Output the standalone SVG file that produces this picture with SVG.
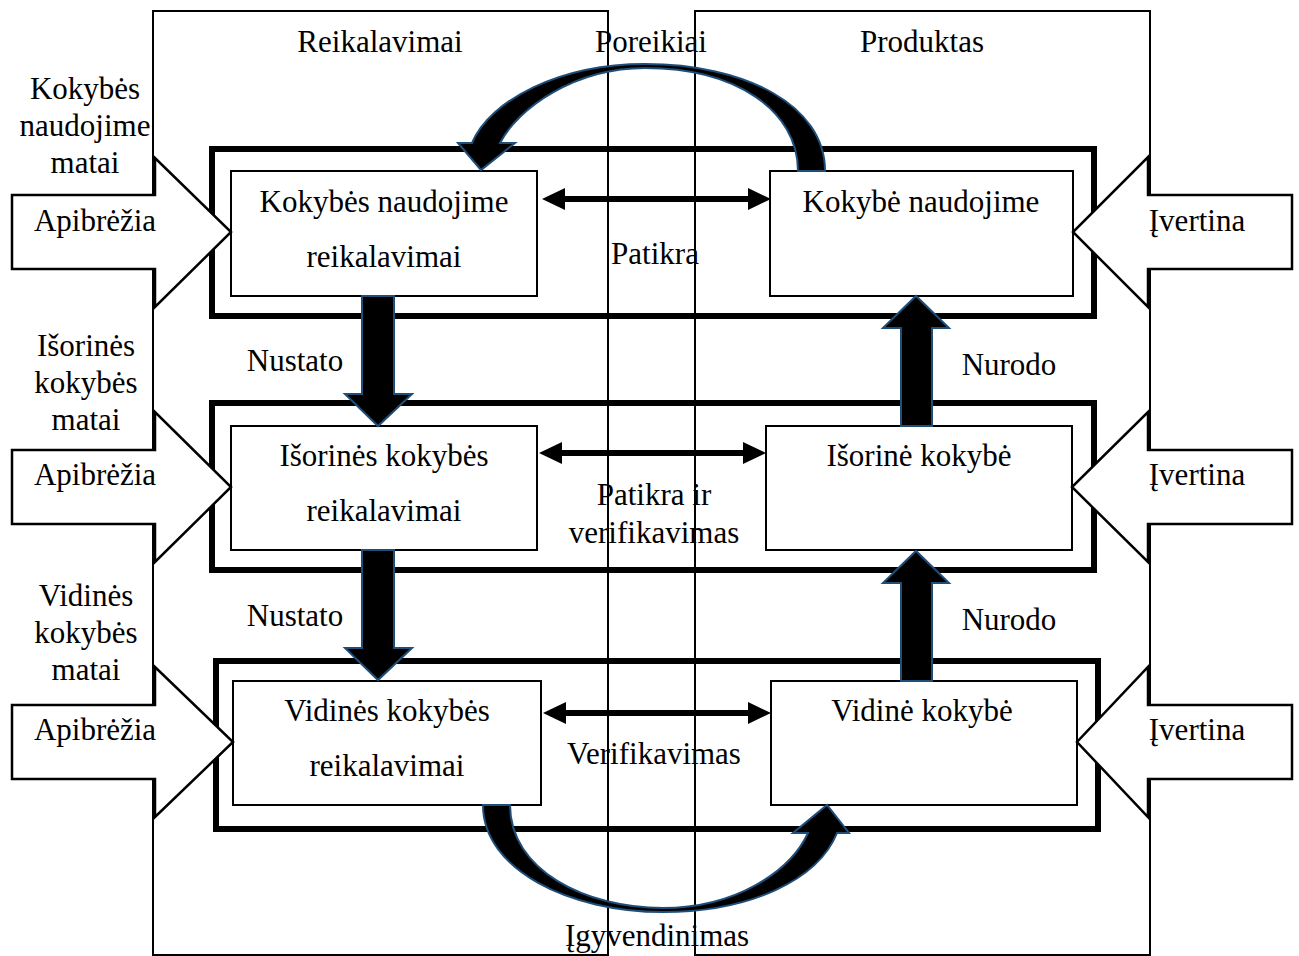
<svg xmlns="http://www.w3.org/2000/svg" width="1299" height="956" viewBox="0 0 1299 956">
<style>
text{font-family:"Liberation Serif","Times New Roman",serif;font-size:31px;fill:#000;text-anchor:middle}
.col{fill:none;stroke:#000;stroke-width:2}
.frame{fill:none;stroke:#000;stroke-width:6}
.box{fill:#fff;stroke:#000;stroke-width:2}
.blk{fill:#fff;stroke:#000;stroke-width:2.5;stroke-linejoin:miter}
.va{fill:#000;stroke:#1F4E79;stroke-width:2;stroke-linejoin:miter}
.dbl{fill:#000;stroke:none}
</style>
<g id="columns">
<rect class="col" x="153" y="11" width="455" height="944"/>
<rect class="col" x="695" y="11" width="455" height="944"/>
<text x="380" y="52">Reikalavimai</text>
<text x="651" y="52">Poreikiai</text>
<text x="922" y="52">Produktas</text>
</g>
<g id="frames">
<rect class="frame" x="212" y="149" width="882" height="167"/>
<rect class="frame" x="212" y="403" width="882" height="167"/>
<rect class="frame" x="216" y="661" width="882" height="168"/>
</g>
<g id="node-kokybes-req">
<rect class="box" x="231" y="171" width="306" height="125"/>
<text x="384" y="212">Kokybės naudojime</text>
<text x="384" y="267">reikalavimai</text>
</g>
<g id="node-kokybe">
<rect class="box" x="770" y="171" width="303" height="125"/>
<text x="921" y="212">Kokybė naudojime</text>
</g>
<g id="node-isorines-req">
<rect class="box" x="231" y="426" width="306" height="124"/>
<text x="384" y="466">Išorinės kokybės</text>
<text x="384" y="521">reikalavimai</text>
</g>
<g id="node-isorine">
<rect class="box" x="766" y="426" width="306" height="124"/>
<text x="919" y="466">Išorinė kokybė</text>
</g>
<g id="node-vidines-req">
<rect class="box" x="233" y="681" width="308" height="124"/>
<text x="387" y="721">Vidinės kokybės</text>
<text x="387" y="776">reikalavimai</text>
</g>
<g id="node-vidine">
<rect class="box" x="771" y="681" width="306" height="124"/>
<text x="922" y="721">Vidinė kokybė</text>
</g>
<g id="labels-left">
<text x="85" y="99">Kokybės</text>
<text x="85" y="136">naudojime</text>
<text x="85" y="173">matai</text>
<text x="86" y="356">Išorinės</text>
<text x="86" y="393">kokybės</text>
<text x="86" y="430">matai</text>
<text x="86" y="606">Vidinės</text>
<text x="86" y="643">kokybės</text>
<text x="86" y="680">matai</text>
</g>
<g id="connectors">
<!-- left block arrows -->
<path class="blk" d="M12,195 H155 V158 L231,232 L155,307 V269 H12 Z"/>
<path class="blk" d="M12,450 H155 V412 L231,487 L155,562 V524 H12 Z"/>
<path class="blk" d="M12,705 H155 V667 L233,742 L155,817 V779 H12 Z"/>
<text x="95" y="231">Apibrėžia</text>
<text x="95" y="485">Apibrėžia</text>
<text x="95" y="740">Apibrėžia</text>
<!-- right block arrows -->
<path class="blk" d="M1292,195 H1148 V157 L1073,232 L1148,307 V269 H1292 Z"/>
<path class="blk" d="M1292,450 H1148 V412 L1072,487 L1148,562 V524 H1292 Z"/>
<path class="blk" d="M1292,705 H1148 V667 L1077,742 L1148,817 V779 H1292 Z"/>
<text x="1197" y="231">Įvertina</text>
<text x="1197" y="485">Įvertina</text>
<text x="1197" y="740">Įvertina</text>
<!-- top curved arrow -->
<path class="va" d="M825,171 C825,105 745,64 645,64 C560,64 490,100 472,143 L458,143 L481,170 L515,143 L500,143 C518,108 575,68 645,68 C735,68 798,110 798,171 Z"/>
<!-- bottom curved arrow -->
<path class="va" d="M483,805 C483,870 570,912 663,912 C750,912 818,880 837,833 L849,833 L827,805 L793,833 L808,833 C790,872 735,908 663,908 C585,908 510,870 510,805 Z"/>
<!-- Nustato arrows -->
<path class="va" d="M362,296 H394 V394 H412 L378,426 L345,394 H362 Z"/>
<path class="va" d="M362,550 H394 V648 H412 L378,680 L345,648 H362 Z"/>
<!-- Nurodo arrows -->
<path class="va" d="M901,426 H932 V328 H949 L916,296 L883,328 H901 Z"/>
<path class="va" d="M901,681 H932 V583 H949 L916,551 L883,583 H901 Z"/>
<!-- double arrows -->
<path class="dbl" d="M542,199 L565,188 V196 H748 V188 L771,199 L748,210 V202 H565 V210 Z"/>
<path class="dbl" d="M539,453 L562,442 V450 H743 V442 L766,453 L743,464 V456 H562 V464 Z"/>
<path class="dbl" d="M543,713 L566,702 V710 H748 V702 L771,713 L748,724 V716 H566 V724 Z"/>
<text x="655" y="264">Patikra</text>
<text x="654" y="505">Patikra ir</text>
<text x="654" y="543">verifikavimas</text>
<text x="654" y="764">Verifikavimas</text>
<text x="657" y="946">Įgyvendinimas</text>
<text x="295" y="371">Nustato</text>
<text x="295" y="626">Nustato</text>
<text x="1009" y="375">Nurodo</text>
<text x="1009" y="630">Nurodo</text>
</g>
</svg>
